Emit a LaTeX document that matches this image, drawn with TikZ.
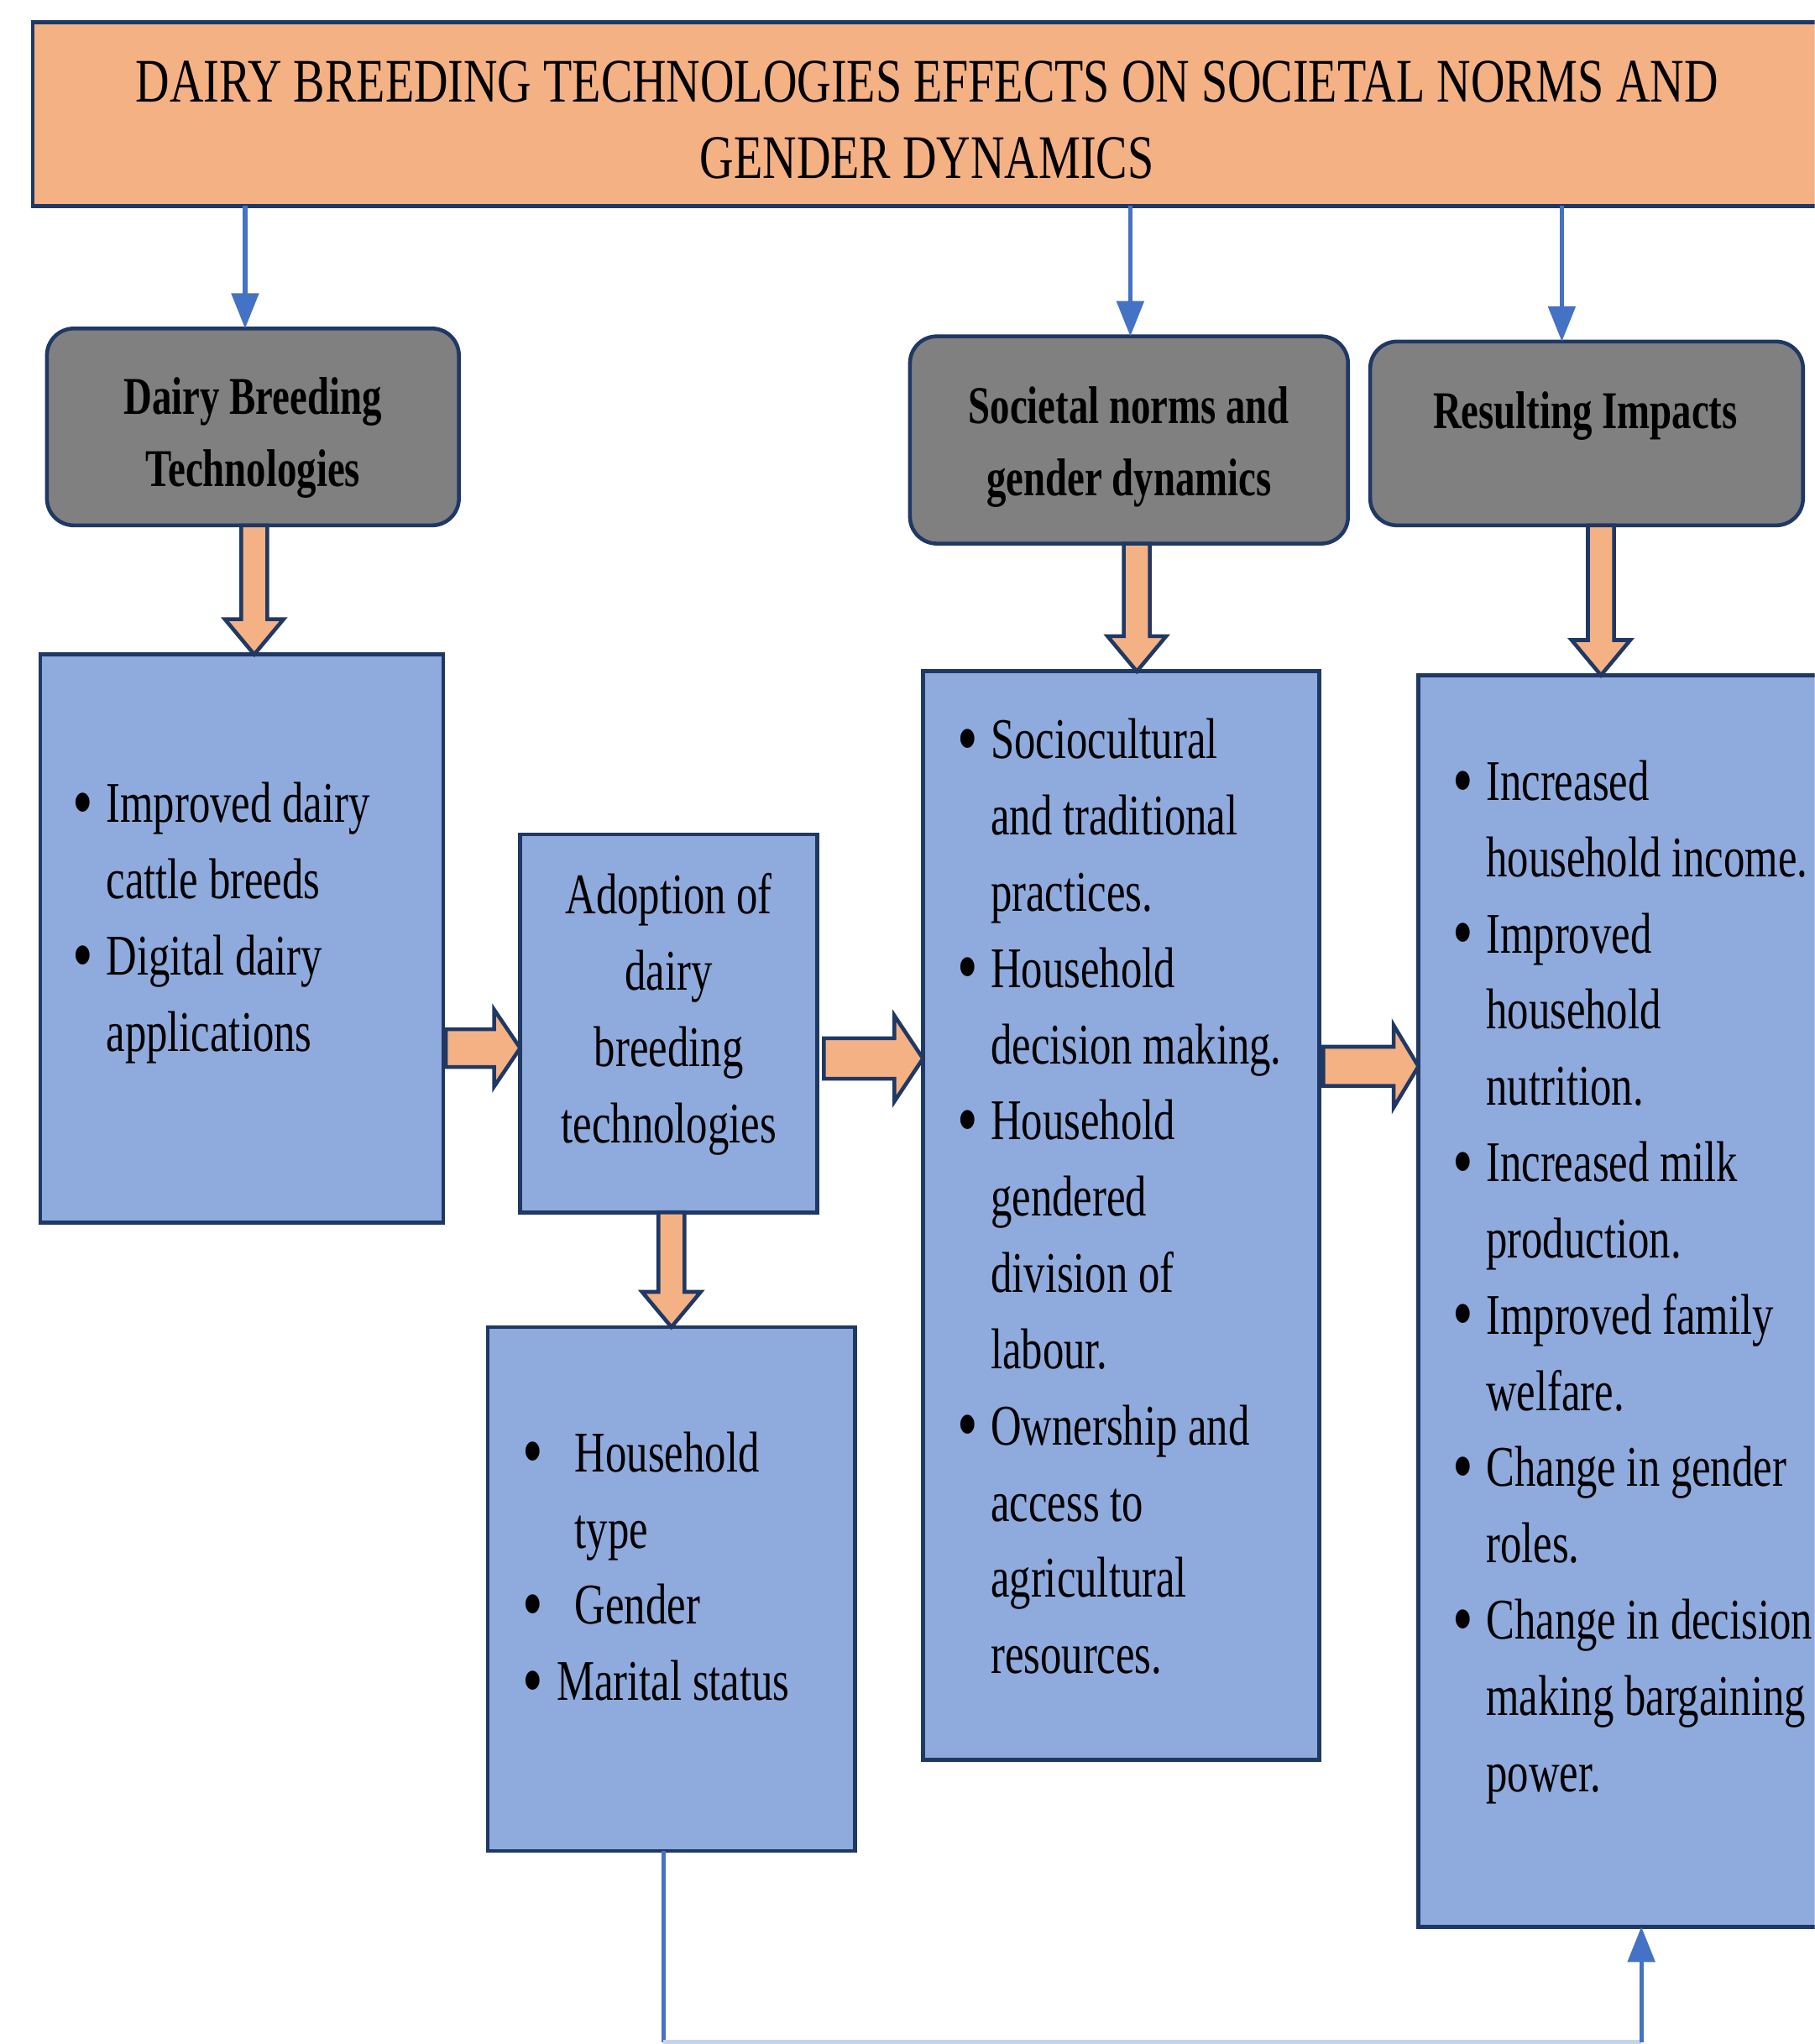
\documentclass[tikz,border=0pt]{standalone}
\usepackage{fontspec}
\setmainfont{Liberation Serif}[FakeStretch=0.74]
\newfontfamily\titlefont{Liberation Serif}[FakeStretch=0.76]
\usetikzlibrary{calc,arrows.meta}
\definecolor{orangef}{HTML}{F4B183}
\definecolor{bluef}{HTML}{8FAADC}
\definecolor{grayf}{HTML}{808080}
\definecolor{navy}{HTML}{1F3864}
\definecolor{conblue}{HTML}{4472C4}
\definecolor{lightblue}{HTML}{C5D3EC}
\newlength\bulind
\setlength\bulind{0.396cm}
\newcommand\bigbul{\raisebox{-2.2pt}{\fontsize{27}{27}\selectfont\textbullet}}
\newcommand\bul{\makebox[\bulind][l]{\bigbul}}
\newcommand\bulsp{\hspace*{\bulind}}
\newcommand\blockdown[5]{\draw[blockarr] ($(#1)+(-#3,0)$) -- ($(#2)+(-#3,-#5)$) -- ($(#2)+(-#4,-#5)$) -- (#2) -- ($(#2)+(#4,-#5)$) -- ($(#2)+(#3,-#5)$) -- ($(#1)+(#3,0)$) -- cycle;}
\newcommand\blockright[5]{\draw[blockarr] ($(#1)+(0,-#3)$) -- ($(#2)+(-#5,-#3)$) -- ($(#2)+(-#5,-#4)$) -- (#2) -- ($(#2)+(-#5,#4)$) -- ($(#2)+(-#5,#3)$) -- ($(#1)+(0,#3)$) -- cycle;}
\begin{document}
\begin{tikzpicture}[x=0.015532cm, y=-0.015532cm,
  box/.style={draw=navy, line width=1.3pt, inner sep=0pt, outer sep=0pt},
  sz/.style 2 args={minimum width=#1*0.015532cm, minimum height=#2*0.015532cm},
  titlebox/.style={box, fill=orangef},
  headbox/.style={box, fill=grayf, rounded corners=0.32cm},
  bluebox/.style={box, fill=bluef},
  txt/.style={inner sep=0pt, outer sep=0pt, align=left, font=\fontsize{19.5}{25.85}\selectfont},
  ctxt/.style={txt, align=center},
  ttl/.style={inner sep=0pt, outer sep=0pt, align=center, font=\titlefont\fontsize{21}{26}\selectfont},
  hdr/.style={inner sep=0pt, outer sep=0pt, align=center, font=\bfseries\fontsize{18}{24.3}\selectfont},
  conn/.style={draw=conblue, line width=1.5pt, -{Triangle[length=0.42cm, width=0.32cm]}},
  connline/.style={draw=conblue, line width=1.5pt},
  blockarr/.style={draw=navy, fill=orangef, line width=1.3pt, line join=miter}]
\useasboundingbox (0,0) rectangle (1392,1568);
\clip (0,0) rectangle (1392,1568);

% title
\node[titlebox, sz={1395}{141}] (title) at (722.5,87.5) {};
\node[ttl, anchor=north] (titletxt) at (711,37) {\strut DAIRY BREEDING TECHNOLOGIES EFFECTS ON SOCIETAL NORMS AND\\GENDER DYNAMICS};

% header boxes
\node[headbox, sz={316}{151}] (gb1) at (194,327.5) {};
\node[hdr, anchor=north] (h1) at (194,279.5) {\strut Dairy Breeding\\Technologies};
\node[headbox, sz={336}{159}] (gb2) at (866,337.5) {};
\node[hdr, anchor=north] (h2) at (866,286.5) {\strut Societal norms and\\gender dynamics};
\node[headbox, sz={332}{141}] (gb3) at (1217,332.5) {};
\node[hdr, anchor=north] (h3) at (1216,290.5) {\strut Resulting Impacts};

% blue boxes
\node[bluebox, sz={309}{436}] (A) at (185.5,720) {};
\node[txt, anchor=north west] (atxt) at (56,590) {\strut\bul Improved dairy\\\bulsp cattle breeds\\\bul Digital dairy\\\bulsp applications};

\node[bluebox, sz={228}{290}] (B) at (513,785) {};
\node[ctxt, anchor=north] (btxt) at (513,660) {\strut Adoption of\\dairy\\breeding\\technologies};

\node[bluebox, sz={282}{402}] (C) at (515,1219) {};
\node[txt, anchor=north west] (ctxtn) at (401,1088) {\strut\makebox[0.621cm][l]{\bigbul}Household\\\hspace*{0.621cm}type\\\makebox[0.621cm][l]{\bigbul}Gender\\\makebox[0.404cm][l]{\bigbul}Marital status};

\node[bluebox, sz={304}{835}] (D) at (860,932.5) {};
\node[txt, anchor=north west] (dtxt) at (734.5,541) {\strut\bul Sociocultural\\\bulsp and traditional\\\bulsp practices.\\\bul Household\\\bulsp decision making.\\\bul Household\\\bulsp gendered\\\bulsp division of\\\bulsp labour.\\\bul Ownership and\\\bulsp access to\\\bulsp agricultural\\\bulsp resources.};

\node[bluebox, sz={332}{960}] (E) at (1254,998) {};
\node[txt, anchor=north west] (etxt) at (1114.5,573) {\strut\bul Increased\\\bulsp household income.\\\bul Improved\\\bulsp household\\\bulsp nutrition.\\\bul Increased milk\\\bulsp production.\\\bul Improved family\\\bulsp welfare.\\\bul Change in gender\\\bulsp roles.\\\bul Change in decision\\\bulsp making bargaining\\\bulsp power.};

% thin blue arrows from title
\coordinate (ta1) at ($(gb1.north)+(-6,0)$);
\coordinate (ta2) at ($(gb2.north)+(1,0)$);
\coordinate (ta3) at ($(gb3.north)+(-19,0)$);
\draw[conn] (ta1 |- title.south) -- (ta1);
\draw[conn] (ta2 |- title.south) -- (ta2);
\draw[conn] (ta3 |- title.south) -- (ta3);

% block arrows
\coordinate (s1) at ($(gb1.south)+(1,0)$);
\coordinate (t1) at (s1 |- A.north);
\coordinate (s2) at ($(gb2.south)+(6,0)$);
\coordinate (t2) at (s2 |- D.north);
\coordinate (s3) at ($(gb3.south)+(11,0)$);
\coordinate (t3) at (s3 |- E.north);
\coordinate (s4) at ($(B.south)+(2,0)$);
\coordinate (t4) at (s4 |- C.north);
\blockdown{s1}{t1}{10}{22.5}{27}
\blockdown{s2}{t2}{10}{22.5}{27}
\blockdown{s3}{t3}{10}{22.5}{27}
\blockdown{s4}{t4}{10}{22.5}{27}

\coordinate (r1) at ($(A.east)+(2,84)$);
\coordinate (u1) at (r1 -| B.west);
\coordinate (r2) at ($(B.east)+(5,27)$);
\coordinate (u2) at (r2 -| D.west);
\coordinate (r3) at ($(D.east)+(3,-114.5)$);
\coordinate (u3) at (r3 -| E.west);
\blockright{r1}{u1}{14.5}{29.5}{20}
\blockright{r2}{u2}{15.5}{33}{22}
\blockright{r3}{u3}{15}{31.5}{19}

% bottom feedback connector
\coordinate (bl) at ($(C.south)+(-6,147)$);
\coordinate (be) at ($(E.south)+(5,0)$);
\draw[connline] (C.south -| bl) -- (bl);
\draw[draw=lightblue, line width=2.2pt] (bl) -- (bl -| be);
\draw[conn] (bl -| be) -- (be);
\end{tikzpicture}
\end{document}
